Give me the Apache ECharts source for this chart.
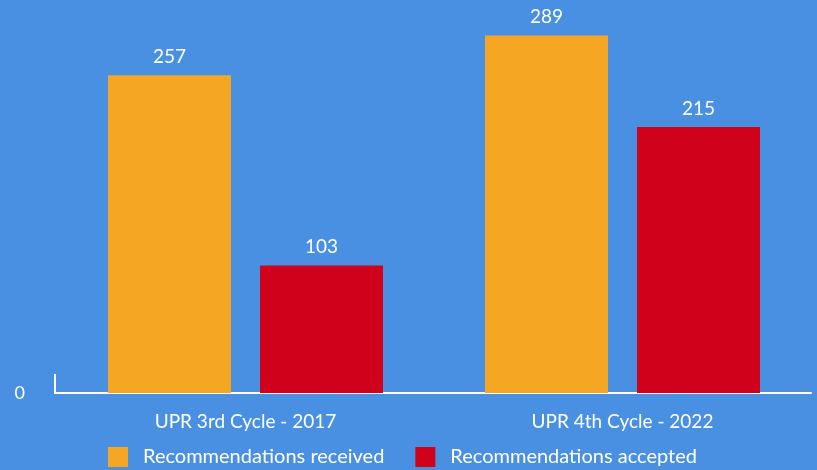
<!DOCTYPE html>
<html><head><meta charset="utf-8">
<script src="https://cdn.jsdelivr.net/npm/echarts@6/dist/echarts.min.js"></script>
<style>html,body{margin:0;padding:0;background:#4A90E2;}#c{width:817px;height:470px;}</style>
</head><body><div id="c"></div>
<script>
const categories = ['UPR 3rd Cycle - 2017', 'UPR 4th Cycle - 2022'];
const received = [257, 289];
const accepted = [103, 215];
const seriesNames = ['Recommendations received', 'Recommendations accepted'];

const chart = echarts.init(document.getElementById('c'));
const font = 'Lato';
chart.setOption({
  backgroundColor: '#4A90E2',
  textStyle: { fontFamily: font },
  animation: false,
  grid: { left: 57, right: 6, top: 22, bottom: 77 },
  legend: {
    bottom: -2, left: 103,
    itemWidth: 20, itemHeight: 20, itemGap: 31,
    icon: 'rect',
    textStyle: { color: '#fff', fontSize: 20, fontFamily: font, padding: [0, 0, 0, 10] },
    data: seriesNames
  },
  xAxis: {
    type: 'category', data: categories,
    axisLine: { lineStyle: { color: '#fff', width: 2 } },
    axisTick: { show: false },
    axisLabel: { color: '#fff', fontSize: 19, fontFamily: font, margin: 19 }
  },
  yAxis: {
    type: 'value', min: 0, max: 300, interval: 300,
    splitLine: { show: false },
    axisLine: { show: false },
    axisLabel: { color: '#fff', fontSize: 18, fontFamily: font, margin: 32, showMaxLabel: false,
      formatter: v => v === 0 ? '0' : '' }
  },
  graphic: [
    { type: 'line', shape: { x1: 55, y1: 374, x2: 55, y2: 393 }, style: { stroke: '#fff', lineWidth: 2 } },
    { type: 'line', shape: { x1: 54, y1: 393, x2: 58, y2: 393 }, style: { stroke: '#fff', lineWidth: 2 } }
  ],
  series: [
    { name: seriesNames[0], type: 'bar', data: received, barWidth: 123, barGap: '23.6%',
      itemStyle: { color: '#F5A623' },
      label: { show: true, position: 'top', distance: 9, color: '#fff', fontSize: 19, fontFamily: font } },
    { name: seriesNames[1], type: 'bar', data: accepted, barWidth: 123,
      itemStyle: { color: '#D0021B' },
      label: { show: true, position: 'top', distance: 9, color: '#fff', fontSize: 19, fontFamily: font } }
  ]
});
</script></body></html>
